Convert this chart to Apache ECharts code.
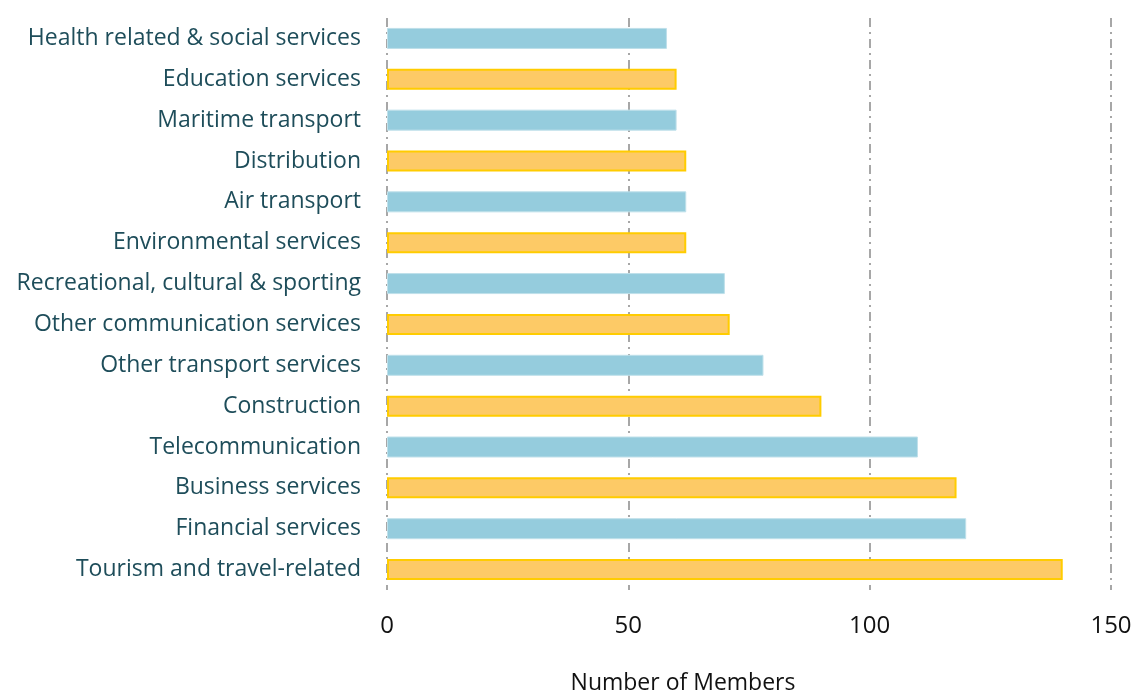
<!DOCTYPE html>
<html>
<head>
<meta charset="utf-8">
<script src="https://cdn.jsdelivr.net/npm/echarts@6/dist/echarts.min.js"></script>
<style>
  html, body { margin: 0; padding: 0; background: #ffffff; }
  #chart { width: 1135px; height: 694px; }
</style>
</head>
<body>
<div id="chart"></div>
<script>
// Service sectors, listed top to bottom
const categories = [
  'Health related & social services',
  'Education services',
  'Maritime transport',
  'Distribution',
  'Air transport',
  'Environmental services',
  'Recreational, cultural & sporting',
  'Other communication services',
  'Other transport services',
  'Construction',
  'Telecommunication',
  'Business services',
  'Financial services',
  'Tourism and travel-related'
];

// Number of members with commitments in each sector
const memberCounts = [58, 60, 60, 62, 62, 62, 70, 71, 78, 90, 110, 118, 120, 140];

// Value axis ticks
const xTicks = [0, 50, 100, 150];

const BLUE = '#95CCDD';
const ORANGE = '#FDCA66';
const GOLD = '#FFCC00';
const FONT = '"Open Sans", Lato, sans-serif';

const barData = memberCounts.map((v, i) => ({
  value: v,
  itemStyle: i % 2 === 0
    ? { color: BLUE, borderColor: '#BFE0EA', borderWidth: 1 }
    : { color: ORANGE, borderColor: GOLD, borderWidth: 2 }
}));

const chart = echarts.init(document.getElementById('chart'), null, { renderer: 'canvas' });

chart.setOption({
  animation: false,
  grid: {
    left: 387, right: 24, top: 18, height: 572,
    containLabel: false,
    outerBoundsMode: 'none'
  },
  xAxis: {
    type: 'value',
    min: xTicks[0],
    max: xTicks[xTicks.length - 1],
    interval: 50,
    axisLine: { show: false },
    axisTick: { show: false },
    axisLabel: {
      margin: 24,
      fontSize: 24,
      color: '#111',
      fontFamily: FONT
    },
    splitLine: {
      show: true,
      lineStyle: { color: '#8a8a8a', width: 1.5, type: [9, 5, 2, 5] }
    },
    name: 'Number of Members',
    nameLocation: 'middle',
    nameGap: 82,
    nameTextStyle: {
      fontSize: 23,
      color: '#111',
      fontFamily: FONT,
      padding: [0, 132, 0, 0]
    }
  },
  yAxis: {
    type: 'category',
    data: categories,
    inverse: true,
    axisLine: { show: false },
    axisTick: { show: false },
    splitLine: { show: false },
    axisLabel: {
      margin: 26,
      fontSize: 23,
      color: '#1E4D5A',
      fontFamily: FONT,
      padding: [3, 0, 0, 0]
    }
  },
  series: [{
    type: 'bar',
    data: barData,
    barWidth: 21
  }]
});
</script>
</body>
</html>
